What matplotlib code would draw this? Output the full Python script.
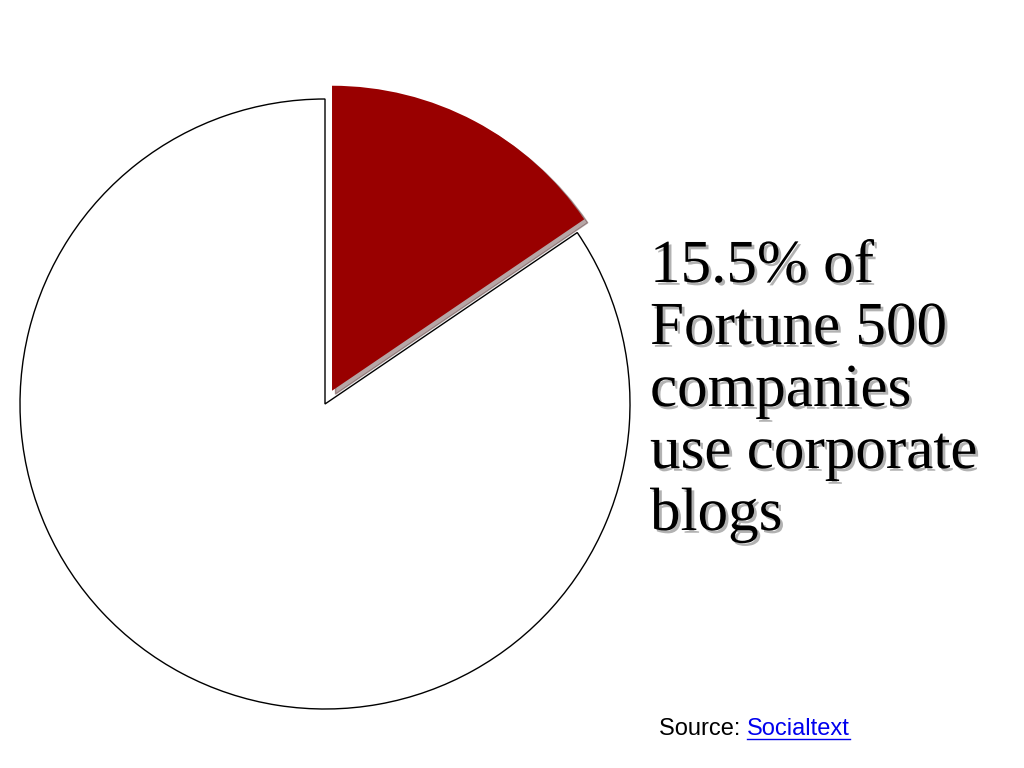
import matplotlib
matplotlib.use("Agg")
from matplotlib import pyplot as plt
import matplotlib.patches as mpatches
import matplotlib.patheffects as pe

# Data
shares = [15.5, 84.5]
colors = ['#990000', 'white']
explode = [15, 0]
caption_lines = ["15.5% of", "Fortune 500", "companies", "use corporate", "blogs"]
source_label = "Source: "
source_link = "Socialtext"

H = 768
fig = plt.figure(figsize=(10.24, 7.68), dpi=100)
ax = fig.add_axes([0, 0, 1, 1])

wedges, _ = ax.pie(shares, colors=colors, explode=explode, startangle=90,
                   counterclock=False, center=(325, H - 404), radius=305,
                   wedgeprops=dict(edgecolor='black', linewidth=1))
wedges[0].set_edgecolor('none')
ax.set_xlim(0, 1024)
ax.set_ylim(0, H)
ax.set_aspect('equal')
ax.axis('off')

# shadow behind red slice
sh = mpatches.Shadow(wedges[0], 2.5, -2.5, alpha=0.35)
sh.set_zorder(wedges[0].get_zorder() - 0.5)
ax.add_patch(sh)

shadow = [pe.SimplePatchShadow(offset=(2, -2), shadow_rgbFace='gray', alpha=0.6), pe.Normal()]
for i, line in enumerate(caption_lines):
    ax.text(650, H - (282 + 62 * i), line, fontsize=44, family='Liberation Serif',
            color='black', va='baseline', ha='left', path_effects=shadow)

t1 = ax.text(659, H - 735, source_label, fontsize=17, family='Liberation Sans', va='baseline')
fig.canvas.draw()
bb = t1.get_window_extent()
t2 = ax.text(bb.x1, H - 735, source_link, fontsize=17, family='Liberation Sans',
             color='#0000ee', va='baseline')
fig.canvas.draw()
bb2 = t2.get_window_extent()
ax.plot([bb2.x0, bb2.x1], [H - 739, H - 739], color='#0000ee', lw=1)

fig.savefig('out.png', dpi=100)
